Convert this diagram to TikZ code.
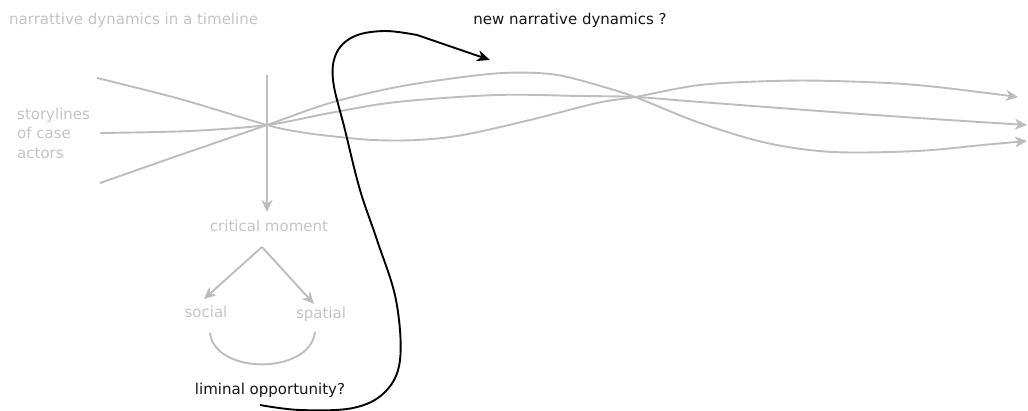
\documentclass[tikz,border=0pt]{standalone}
\usepackage{fontspec}
\setmainfont{DejaVu Sans}
\usetikzlibrary{arrows.meta}
\definecolor{lgray}{HTML}{BDBDBD}
\definecolor{tgray}{HTML}{C4C4C4}
\definecolor{ink}{HTML}{151515}
\begin{document}
\begin{tikzpicture}[x=1pt,y=1pt,
  gl/.style={draw=lgray,line width=1.9pt},
  garrow/.style={-{Stealth[length=12pt,width=11pt,inset=3.5pt]}},
  gtext/.style={text=tgray,font=\fontsize{15}{19.5}\selectfont,inner sep=1pt},
  btext/.style={text=ink,font=\fontsize{15}{19.5}\selectfont,inner sep=1pt},
  bl/.style={draw=black,line width=1.9pt}]
\useasboundingbox (0,0) rectangle (1028,-411);
% texts
\node[gtext,anchor=west] (title) at (8,-20) {narrattive dynamics in a timeline};
\node[gtext,anchor=west,align=left] (story) at (16,-133) {storylines\\of case\\actors};
\node[gtext] (cm) at (269,-226) {critical moment};
\node[gtext] (social) at (206,-312) {social};
\node[gtext] (spatial) at (321,-314) {spatial};
\node[btext] (lo) at (270,-390) {liminal opportunity?};
\node[btext] (nnd) at (570,-20) {new narrative dynamics ?};
% coordinates
\coordinate (X) at (267,-125);
\coordinate (vtop) at (267,-75);
\coordinate (vbot) at (267,-212);
\coordinate (apex) at (262,-247);
\coordinate (soc) at (204,-299);
\coordinate (spa) at (314,-304);
\coordinate (arcL) at (210,-333);
\coordinate (arcR) at (315,-332);
\coordinate (bstart) at (260,-405);
\coordinate (bend) at (490,-60);
% storylines
\draw[gl,garrow] plot[smooth,tension=0.55] coordinates {(97,-78) (180,-99) (267,-125) (300,-132) (330,-136) (373,-140) (417,-140) (463,-135) (530,-120) (597,-103) (635,-97) (700,-85) (773,-81) (833,-81) (917,-85) (1018,-97)};
\draw[gl,garrow] plot[smooth,tension=0.55] coordinates {(100,-183) (180,-155) (267,-125) (330,-103) (397,-87) (463,-77) (503,-73) (537,-73) (563,-76) (597,-85) (635,-97) (700,-123) (767,-143) (833,-152) (917,-151) (983,-145) (1027,-141)};
\draw[gl,garrow] plot[smooth,tension=0.55] coordinates {(100,-133) (190,-131) (267,-125) (330,-113) (397,-102) (497,-95) (580,-96) (635,-97) (700,-102) (833,-112) (933,-119) (1027,-125)};
% critical moment
\draw[gl,garrow] (vtop) -- (vbot);
\draw[gl,garrow] (apex) -- (soc);
\draw[gl,garrow] (apex) -- (spa);
\draw[gl] (arcL) .. controls (215,-375) and (310,-375) .. (arcR);
% black curve
\draw[bl,-{Stealth[length=13pt,width=11pt,inset=4pt]}] plot[smooth,tension=0.6] coordinates {(bstart) (300,-410) (353,-408) (385,-392) (400,-360) (396,-300) (377,-240) (360,-190) (345,-130) (333,-80) (337,-52) (355,-36) (385,-31) (417,-35)} -- (bend);
\end{tikzpicture}
\end{document}
